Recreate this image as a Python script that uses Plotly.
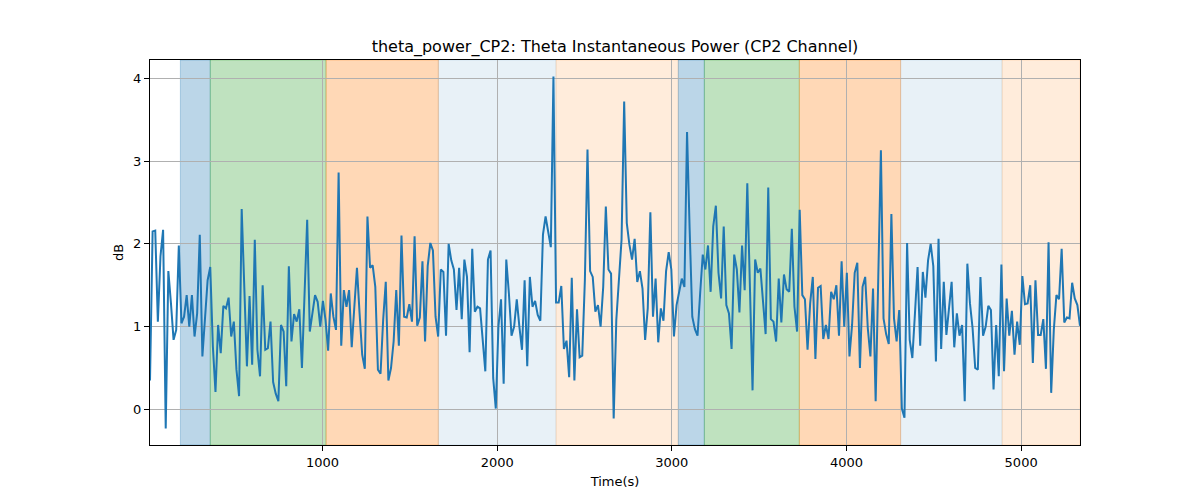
import plotly.graph_objects as go

# ---- data ----
t_start = 12
t_step = 15
power_db = [
    0.35, 2.15, 2.16, 1.06, 1.85, 2.17, -0.23, 1.67, 1.28, 0.84, 0.96, 1.98, 1.04, 1.12, 1.38, 1.00, 1.38, 0.88, 1.16, 2.11,
    0.64, 1.08, 1.56, 1.72, 0.76, 0.21, 1.02, 0.68, 1.25, 1.22, 1.35, 0.88, 1.06, 0.48, 0.16, 2.42, 1.40, 0.52, 1.37, 0.54,
    2.05, 0.72, 0.40, 1.50,
    0.72, 0.74, 1.06, 0.33, 0.19, 0.10, 1.02, 0.94, 0.28, 1.73, 0.82, 1.15, 1.06, 1.21, 0.50, 1.40, 2.29, 0.94, 1.16, 1.38,
    1.30, 1.00, 1.31, 1.08, 0.71, 1.40, 1.12, 0.96, 2.86, 0.77, 1.44, 1.24, 1.44, 0.75, 1.24, 1.71, 1.16, 0.66, 0.49, 2.33,
    1.71, 1.74, 1.48, 0.48,
    0.43, 1.08, 1.54, 0.35, 0.50, 0.82, 1.44, 0.77, 2.10, 1.12, 1.11, 1.27, 1.06, 2.09, 1.01, 1.11, 1.79, 0.82, 1.73, 2.01,
    1.92, 1.12, 0.88, 1.69, 1.66, 0.89, 2.00, 1.80, 1.69, 1.20, 1.71, 1.09, 1.81, 1.60, 0.69, 1.94, 1.18, 1.24, 1.22, 0.83,
    0.46, 1.81, 1.92,
    0.38, 0.01, 1.00, 1.33, 0.31, 1.81, 1.40, 0.89, 1.00, 1.33, 1.00, 0.72, 1.56, 0.52, 1.60, 1.24, 1.31, 1.14, 1.07, 2.11,
    2.33, 2.13, 1.96, 4.02, 1.29, 1.29, 1.49, 0.73, 0.83, 0.39, 1.59, 0.35, 1.21, 0.63, 0.65, 1.56, 3.14, 1.67, 1.60, 1.18,
    1.26, 1.00, 1.48, 2.45, 1.69,
    1.64, -0.11, 1.08, 1.60, 2.05, 3.72, 2.25, 1.99, 1.81, 2.06, 1.54, 1.67, 1.46, 0.84, 1.22, 2.38, 1.12, 1.58, 0.81, 1.22,
    1.07, 1.67, 1.90, 1.69, 0.88, 1.26, 1.40, 1.58, 1.48, 3.35, 2.17, 1.12, 0.97, 0.89, 1.40, 1.87, 1.69, 1.98, 1.42, 2.21,
    2.46, 1.65, 1.34, 2.21,
    1.26, 1.16, 0.73, 1.87, 1.69, 1.17, 1.98, 1.44, 2.73, 1.57, 0.23, 1.81, 1.65, 1.70, 1.32, 0.91, 2.68, 1.09, 1.06, 0.82,
    1.58, 1.05, 1.63, 1.45, 1.42, 2.18, 1.24, 0.94, 2.41, 1.38, 1.33, 0.72, 1.28, 1.60, 0.61, 1.47, 1.49, 0.85, 1.02, 0.85,
    1.42, 1.33, 1.50, 0.89,
    1.79, 1.00, 1.65, 0.64, 1.02, 1.65, 1.77, 0.50, 1.48, 1.60, 0.98, 0.64, 1.46, 0.10, 1.60, 3.13, 1.10, 0.91, 0.79, 2.36,
    1.10, 0.82, 1.20, 0.01, -0.10, 2.01, 0.84, 0.62, 1.16, 1.72, 0.77, 1.66, 1.35, 1.80, 2.00, 1.73, 0.58, 2.06, 0.73, 1.54,
    0.90, 1.22, 1.54, 0.75,
    1.16, 0.89, 1.02, 0.10, 1.76, 1.28, 0.98, 0.50, 0.48, 1.60, 0.89, 1.00, 1.25, 1.20, 0.24, 1.02, 0.40, 1.75, 0.46, 1.34,
    0.89, 1.19, 0.66, 1.06, 0.78, 1.61, 1.27, 1.28, 1.50, 0.56, 1.56, 0.90, 0.90, 1.09, 0.49, 2.02, 0.20, 0.96, 1.38, 1.33,
    1.94, 1.05, 1.11, 1.10, 1.53, 1.34, 1.26, 1.01,
]
time_s = [t_start + t_step * i for i in range(len(power_db))]

span_starts = [186, 357, 1020, 1663, 2337, 3037, 3186, 3730, 4310, 4891]
span_ends = [357, 1020, 1663, 2337, 3037, 3186, 3730, 4310, 4891, 5337]
span_kinds = ["blue", "green", "orange", "lightblue", "lightorange",
              "blue", "green", "orange", "lightblue", "lightorange"]

x_ticks = [1000, 2000, 3000, 4000, 5000]
y_ticks = [0, 1, 2, 3, 4]

span_colors = {
    "blue": "rgba(31,119,180,0.3)",
    "green": "rgba(44,160,44,0.3)",
    "orange": "rgba(255,127,14,0.3)",
    "lightblue": "rgba(31,119,180,0.1)",
    "lightorange": "rgba(255,127,14,0.15)",
}

fig = go.Figure()
fig.add_trace(go.Scatter(x=time_s, y=power_db, mode="lines",
                         line=dict(color="#1f77b4", width=2), showlegend=False))

for s, e, k in zip(span_starts, span_ends, span_kinds):
    fig.add_shape(type="rect", xref="x", yref="paper", x0=s, x1=e, y0=0, y1=1,
                  fillcolor=span_colors[k], line=dict(width=1, color=span_colors[k]),
                  layer="below")

axis_common = dict(showline=True, linecolor="black", linewidth=1, mirror=True,
                   ticks="outside", ticklen=5, tickcolor="black", tickwidth=1,
                   showgrid=True, gridcolor="#b0b0b0", gridwidth=1, zeroline=False,
                   tickfont=dict(size=13, color="black"))

fig.update_layout(
    width=1200, height=500,
    margin=dict(l=150, r=120, t=60, b=55),
    paper_bgcolor="white", plot_bgcolor="white",
    font=dict(family="DejaVu Sans", color="black"),
    title=dict(text="theta_power_CP2: Theta Instantaneous Power (CP2 Channel)",
               x=0.5125, xanchor="center", y=0.908, yanchor="middle",
               font=dict(size=16, color="black")),
    xaxis=dict(range=[time_s[0], time_s[-1]], tickvals=x_ticks,
               title=dict(text="Time(s)", font=dict(size=13), standoff=8), **axis_common),
    yaxis=dict(range=[-0.43, 4.22], tickvals=y_ticks,
               title=dict(text="dB", font=dict(size=13), standoff=6), **axis_common),
)

fig.write_html("out.html")
